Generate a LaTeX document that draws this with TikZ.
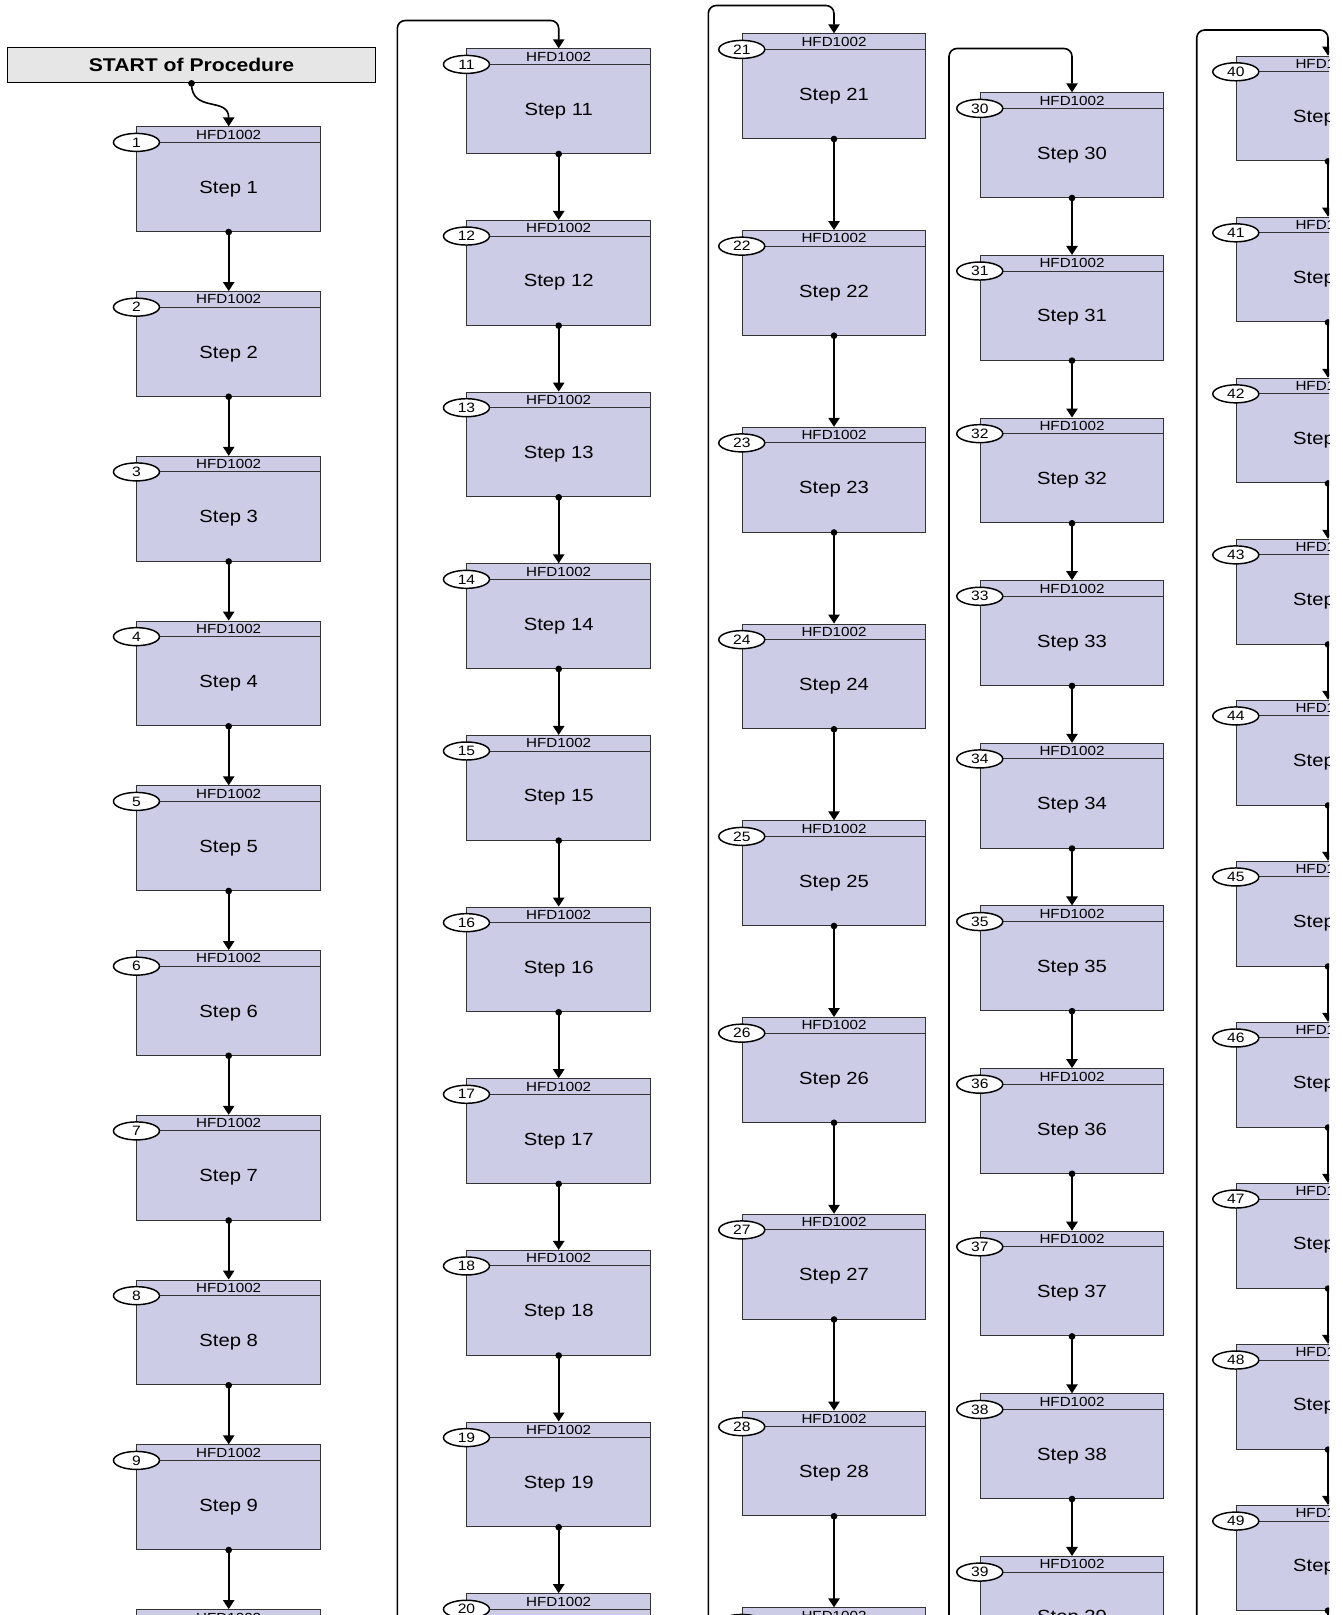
\documentclass[tikz,border=0pt]{standalone}
\usepackage{fontspec}
\setmainfont{Liberation Sans}[FakeStretch=1.15]
\usetikzlibrary{arrows.meta,shapes.multipart,shapes.geometric}
\definecolor{stepfill}{RGB}{204,204,230}
\definecolor{startfill}{RGB}{230,230,230}
\newcommand{\hdrtxt}[1]{{\fontsize{9.9pt}{10pt}\selectfont\rule[-2pt]{0pt}{10.95pt}#1}}
\newcommand{\bodytxt}[1]{{\fontsize{13.2pt}{14pt}\selectfont\rule[-28.3pt]{0pt}{66.08pt}#1}}
\begin{document}
\begin{tikzpicture}[x=0.75pt,y=-0.75pt,
  stepbox/.style={rectangle split,rectangle split parts=2,draw=black!80,line width=0.75pt,
    fill=stepfill,minimum width=137.6pt,inner xsep=0pt,inner ysep=0pt},
  badge/.style={ellipse,draw,line width=1.1pt,fill=white,minimum width=34.5pt,
    minimum height=13.5pt,inner sep=0pt,font=\fontsize{10.2pt}{11pt}\selectfont},
  startbox/.style={draw,line width=1pt,fill=startfill,minimum width=276.3pt,
    minimum height=26.25pt,font=\bfseries\fontsize{13.8pt}{15pt}\selectfont},
  flow/.style={-{Triangle[length=6.75pt,width=8.5pt]},line width=1.2pt}]
\useasboundingbox (0,0) rectangle (1342,1615);
\clip (0,0) rectangle (1329,1615);
\node[startbox] (start) at (191.5,65.2) {START of Procedure};
% one column of steps per line
\foreach \cx/\ctop/\pitch/\nfirst/\nlast in {228.7/126.3/164.75/1/10,558.7/48.3/171.65/11/20,
    834/33.3/196.75/21/29,1072/92.3/162.63/30/39,1328/55.7/161.03/40/49}{
  \foreach \n in {\nfirst,...,\nlast}{
    \node[stepbox,anchor=north] (s\n) at (\cx,{\ctop+(\n-\nfirst)*\pitch})
      {\hdrtxt{HFD1002}\nodepart{two}\bodytxt{Step \n}};
    \node[badge] (b\n) at (s\n.one split west) {\n};
  }
}
\draw[flow] (start.south) .. controls +(0,30) and +(0,-30) .. (s1.north);
\foreach \a/\b in {1/9,11/19,21/28,30/38,40/48}{
  \foreach \n in {\a,...,\b}{
    \pgfmathtruncatemacro{\nxt}{\n+1}
    \draw[flow] (s\n.south) -- (s\nxt.north);
  }
}
% loops back to the top of the next column
\coordinate (lb2) at (397.3,1760); \coordinate (lt2) at (397.3,20.5);
\coordinate (lb3) at (708.3,1760); \coordinate (lt3) at (708.3,5.5);
\coordinate (lb4) at (949,1760);   \coordinate (lt4) at (949,48.5);
\coordinate (lb5) at (1196.7,1760); \coordinate (lt5) at (1196.7,30);
\coordinate (tail) at (1328,1760);
\draw[flow,rounded corners=6pt] (s10.south) |- (lb2) -- (lt2) -| (s11.north);
\draw[flow,rounded corners=6pt] (s20.south) |- (lb3) -- (lt3) -| (s21.north);
\draw[flow,rounded corners=6pt] (s29.south) |- (lb4) -- (lt4) -| (s30.north);
\draw[flow,rounded corners=6pt] (s39.south) |- (lb5) -- (lt5) -| (s40.north);
\draw[line width=1.2pt] (s49.south) -- (tail);
\fill (start.south) circle[radius=2.5pt];
\foreach \n in {1,...,49} \fill (s\n.south) circle[radius=2.5pt];
\end{tikzpicture}
\end{document}
